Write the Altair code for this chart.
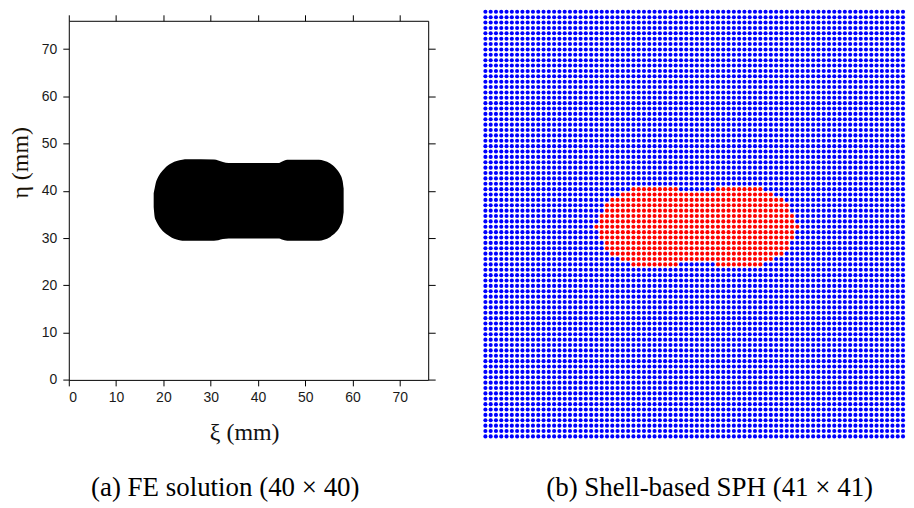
import altair as alt
import pandas as pd

# ---------------- Left panel: FE solution (black region outline, mm) ----------------
blob_x = [17.95, 18.15, 18.4, 18.85, 19.5, 20.2, 21.0, 21.8, 22.8, 24.0, 25.1, 30.7, 31.6, 32.6,
          33.8, 44.5, 44.9, 45.6, 46.2, 52.9, 53.95, 55.3, 56.46, 57.35, 57.9, 58.12]
blob_top = [39.5, 40.5, 41.7, 42.85, 43.9, 44.7, 45.4, 45.9, 46.3, 46.6, 46.68, 46.64, 46.45, 46.1,
            45.9, 45.9, 46.1, 46.45, 46.57, 46.57, 46.4, 45.8, 44.81, 43.55, 42.08, 40.5]
blob_bottom = [36.6, 34.55, 33.8, 32.9, 31.95, 31.2, 30.6, 30.1, 29.7, 29.46, 29.45, 29.45, 29.55, 29.8,
               29.93, 29.93, 29.75, 29.55, 29.45, 29.45, 29.66, 30.26, 31.22, 32.47, 33.93, 35.5]
tick_values = [0, 10, 20, 30, 40, 50, 60, 70]
axis_max = 76

caption_a = "(a) FE solution (40 \u00d7 40)"
caption_b = "(b) Shell-based SPH (41 \u00d7 41)"

# ---------------- Right panel: particle grid, red rows and spans ----------------
n_cols = 80
n_rows = 80
red_rows = [33, 34, 35, 36, 37, 38, 39, 40, 41, 42, 43, 44, 45, 46, 47]
red_spans = [
    [(28, 36), (44, 52)],
    [(26, 54)],
    [(24, 56)],
    [(23, 57)],
    [(23, 57)],
    [(22, 58)],
    [(22, 58)],
    [(21, 59)],
    [(22, 58)],
    [(22, 58)],
    [(23, 57)],
    [(23, 57)],
    [(24, 56)],
    [(26, 54)],
    [(28, 36), (44, 52)],
]

blob = pd.DataFrame({"xi": blob_x, "top": blob_top, "bottom": blob_bottom})
ticks_df = pd.DataFrame({"v": tick_values})

span_map = dict(zip(red_rows, red_spans))
records = []
for r in range(n_rows):
    for c in range(n_cols):
        red = any(a <= c <= b for (a, b) in span_map.get(r, []))
        records.append({"col": c, "row": r, "phase": "red" if red else "blue"})
grid = pd.DataFrame(records)

LBL_FONT = "Liberation Sans"
SERIF = "Liberation Serif"

xs = alt.Scale(domain=[0, axis_max], nice=False, zero=False)
ys = alt.Scale(domain=[0, axis_max], nice=False, zero=False)

area = alt.Chart(blob).mark_area(color="black", interpolate="monotone").encode(
    x=alt.X("xi:Q", scale=xs,
            axis=alt.Axis(values=tick_values, title="\u03be (mm)", tickSize=6,
                          labelPadding=5, labelFontSize=14, labelFont=LBL_FONT,
                          labelColor="#1a1a1a", domainColor="black", tickColor="black",
                          titleFont=SERIF, titleFontSize=24, titleFontWeight="normal",
                          titleColor="#111111", titleX=176, titleY=53,
                          titleAlign="center", titleBaseline="middle")),
    y=alt.Y("top:Q", scale=ys,
            axis=alt.Axis(values=tick_values, title="\u03b7 (mm)", tickSize=6,
                          labelPadding=6, labelFontSize=14, labelFont=LBL_FONT,
                          labelColor="#1a1a1a", domainColor="black", tickColor="black",
                          titleFont=SERIF, titleFontSize=24, titleFontWeight="normal",
                          titleColor="#1a1206", titleAngle=270, titleX=-48, titleY=142,
                          titleAlign="center", titleBaseline="middle")),
    y2="bottom:Q",
)

frame = alt.Chart(ticks_df).mark_point(opacity=0).encode(
    x=alt.X("v:Q", scale=xs,
            axis=alt.Axis(orient="top", values=tick_values, labels=False, title=None,
                          tickSize=6, domainColor="black", tickColor="black")),
    y=alt.Y("v:Q", scale=ys,
            axis=alt.Axis(orient="right", values=tick_values, labels=False, title=None,
                          tickSize=7, domainColor="black", tickColor="black")),
)

cap_a = alt.Chart(pd.DataFrame({"t": [caption_a]})).mark_text(
    font=SERIF, fontSize=27, color="black", align="center", baseline="alphabetic"
).encode(text="t:N", x=alt.value(157), y=alt.value(477))

left = alt.layer(area, frame, cap_a).resolve_axis(x="independent", y="independent").properties(
    width=360.6, height=360.3
)

dots = alt.Chart(grid).mark_circle(size=17, opacity=1).encode(
    x=alt.X("col:Q", scale=alt.Scale(domain=[0, n_cols - 1], nice=False, zero=False), axis=None),
    y=alt.Y("row:Q", scale=alt.Scale(domain=[1.669, n_rows - 1], nice=False, zero=False, reverse=True),
            axis=None),
    color=alt.Color("phase:N", scale=alt.Scale(domain=["blue", "red"], range=["#0000ff", "#ff0000"]),
                    legend=None),
)

cap_b = alt.Chart(pd.DataFrame({"t": [caption_b]})).mark_text(
    font=SERIF, fontSize=27, color="black", align="center", baseline="alphabetic"
).encode(text="t:N", x=alt.value(225), y=alt.value(477))

right = alt.layer(dots, cap_b).properties(width=419, height=417)

chart = alt.hconcat(left, right, spacing=57, bounds="flush").properties(
    padding={"left": 0, "top": 0, "right": 0, "bottom": 0}
).configure_view(stroke="transparent").configure_axis(grid=False)

chart.save("out.html", embed_options={"renderer": "svg", "actions": False})
